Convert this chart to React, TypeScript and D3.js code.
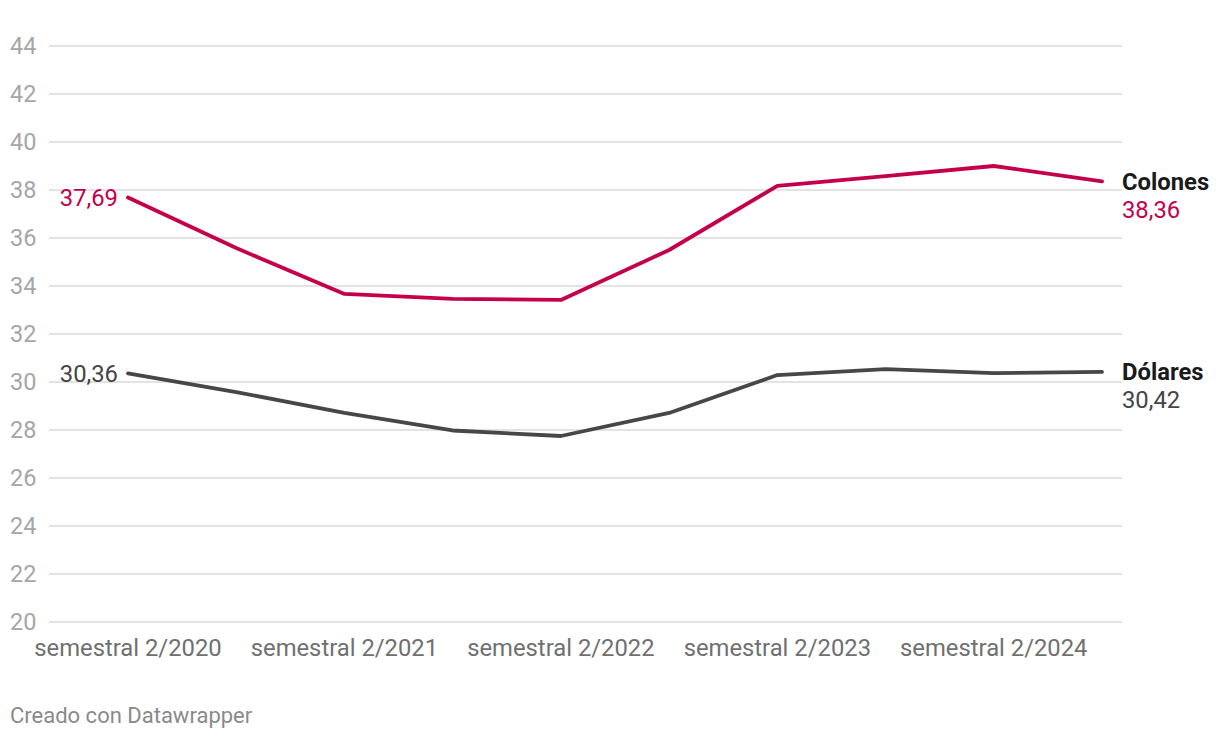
import React from "react";
import * as d3 from "d3";

const periods = [
  "semestral 2/2020", "semestral 1/2021", "semestral 2/2021", "semestral 1/2022",
  "semestral 2/2022", "semestral 1/2023", "semestral 2/2023", "semestral 1/2024",
  "semestral 2/2024", "semestral 1/2025",
];
const colones = [37.69, 35.58, 33.67, 33.46, 33.42, 35.5, 38.17, 38.58, 39.0, 38.36];
const dolares = [30.36, 29.58, 28.71, 27.98, 27.75, 28.71, 30.29, 30.54, 30.37, 30.42];
const yTicks = [20, 22, 24, 26, 28, 30, 32, 34, 36, 38, 40, 42, 44];
const xTickLabels = ["semestral 2/2020", "semestral 2/2021", "semestral 2/2022", "semestral 2/2023", "semestral 2/2024"];

const series = [
  { name: "Colones", values: colones, color: "#c4004d", labelColor: "#c4004d" },
  { name: "Dólares", values: dolares, color: "#474747", labelColor: "#444444" },
];

const fmt = (v: number) => v.toFixed(2).replace(".", ",");

export default function App() {
  const W = 1220, H = 738;
  const x = d3.scalePoint<string>().domain(periods).range([128, 1102]);
  const y = d3.scaleLinear().domain([20, 44]).range([622, 46]);
  const line = d3.line<number>().x((_, i) => x(periods[i])!).y((d) => y(d));
  const font = "Roboto, sans-serif";
  return (
    <svg width={W} height={H} style={{ position: "absolute", left: 0, top: 0, background: "#fff" }} fontFamily={font}>
      {yTicks.map((t) => (
        <g key={t}>
          <line x1={49} x2={1122} y1={y(t)} y2={y(t)} stroke="#e3e3e3" strokeWidth={2} />
          <text x={10} y={y(t)} dy="0.35em" fontSize={23.5} fill="#a6a6a6">{t}</text>
        </g>
      ))}
      {xTickLabels.map((l) => (
        <text key={l} x={x(l)} y={648} dy="0.35em" textAnchor="middle" fontSize={23.8} fill="#707070">{l}</text>
      ))}
      {series.map((s) => (
        <g key={s.name}>
          <path d={line(s.values)!} fill="none" stroke={s.color} strokeWidth={3.8} strokeLinejoin="round" strokeLinecap="round" />
          <text x={118} y={y(s.values[0])} dy="0.35em" textAnchor="end" fontSize={23.8} fill={s.labelColor}>{fmt(s.values[0])}</text>
          <text x={1122} y={y(s.values[s.values.length - 1])} dy="0.35em" fontSize={23.8} fontWeight="bold" fill="#1a1a1a">{s.name}</text>
          <text x={1122} y={y(s.values[s.values.length - 1]) + 28} dy="0.35em" fontSize={23.8} fill={s.labelColor}>{fmt(s.values[s.values.length - 1])}</text>
        </g>
      ))}
      <text x={10} y={715} dy="0.35em" fontSize={22} fill="#8a8a8a">Creado con Datawrapper</text>
    </svg>
  );
}
